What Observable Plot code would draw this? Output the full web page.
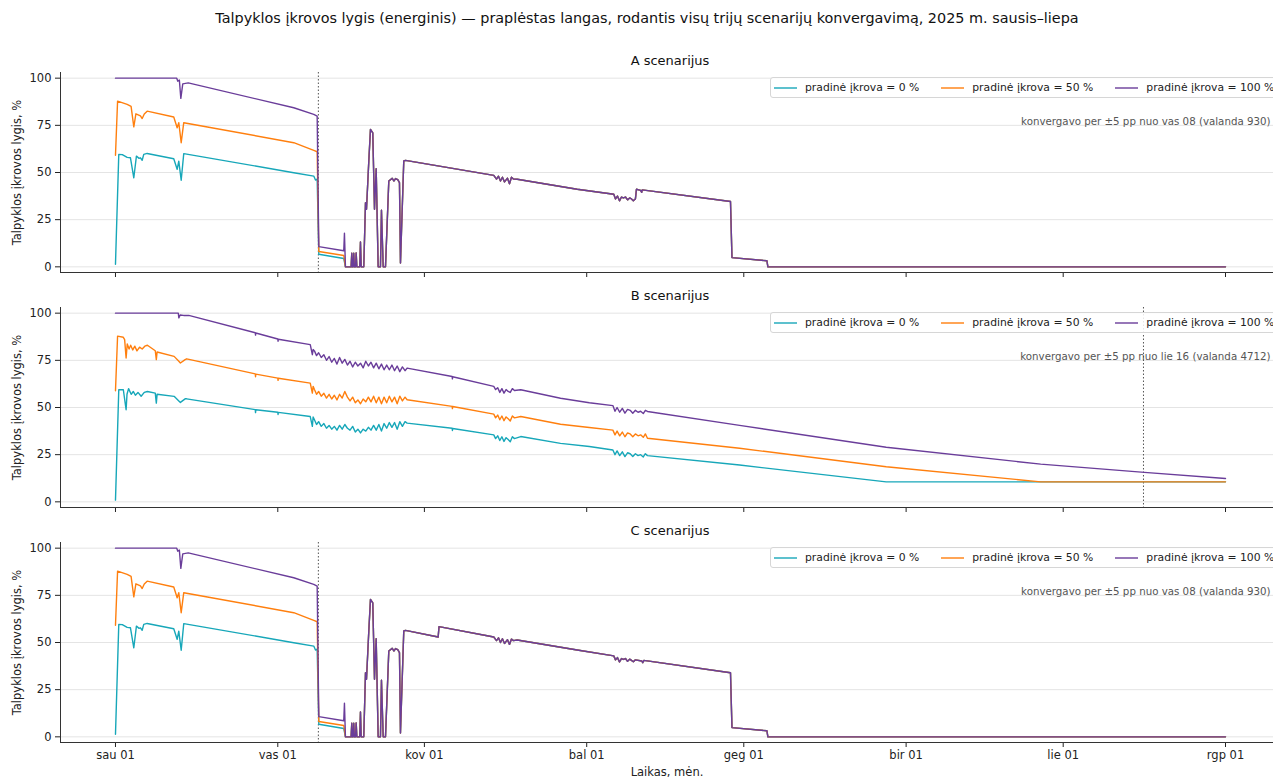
<!DOCTYPE html>
<html lang="lt">
<head>
<meta charset="utf-8">
<script src="https://cdn.jsdelivr.net/npm/d3@7"></script>
<script src="https://cdn.jsdelivr.net/npm/@observablehq/plot@0.6"></script>
<style>
  body { margin: 0; background: #fff; font-family: "DejaVu Sans", sans-serif; }
  #root { position: relative; width: 1273px; height: 778px; overflow: hidden; }
  .ttl { position: absolute; top: 10px; left: 0; width: 1294px; text-align: center; font-size: 14.4px; color: #111; white-space: nowrap; }
  .panel { position: absolute; left: 0; }
  .legend { position: absolute; left: 770px; height: 19px; display: flex; align-items: center;
            border: 1px solid #d6d6d6; border-radius: 3px; background: rgba(255,255,255,0.85);
            font-size: 10.8px; color: #222; padding-left: 3px; white-space: nowrap; }
  .legend .item { display: flex; align-items: center; margin-right: 22px; }
  .legend svg { margin-right: 8px; }
</style>
</head>
<body>
<div id="root">
  <div class="ttl">Talpyklos įkrovos lygis (energinis) — praplėstas langas, rodantis visų trijų scenarijų konvergavimą, 2025 m. sausis–liepa</div>
</div>
<script>
// Series are [day offset from 2025-01-01 00:00 UTC, charge level %]

// A and C share the same start (before convergence)
const headAC0 = [[0,1.4],[0.63,59.6],[1.3,59.5],[2.23,58],[2.86,57.8],[3.5,47.2],[4.0,58.7],[4.5,57.5],[4.77,57.8],[5.1,56.5],[5.4,59.6],[6.05,60.1],[11.13,57.3],[11.78,51.7],[12.09,56],[12.55,45.9],[13.04,60],[34.05,49.9],[37.87,48.1],[38.2,46],[38.52,46.5],[38.83,6.7],[43.6,4.4]];
const headAC50 = [[0,59.1],[0.4,87.8],[2.23,86.1],[2.98,85],[3.5,74.2],[3.9,81.1],[4.77,80],[5.1,78.6],[5.5,81],[6.05,82.5],[11.13,79.4],[11.78,73.7],[12.09,76.4],[12.55,65.8],[13.04,76.4],[34.05,65.8],[37.87,61.7],[38.52,61],[38.83,8.1],[43.6,6]];
const headAC100 = [[0,100],[11.7,100],[11.9,98.4],[12.2,99],[12.48,89.3],[12.85,97],[13.9,97.5],[34.05,84.3],[37.87,80.8],[38.52,79.9],[38.83,10.7],[43.6,8.5],[43.73,17.8]];

// after convergence all three runs coincide
const sharedAC = [[43.92,0],[45.0,0],[45.13,7.2],[45.26,0],[45.4,0],[45.51,7.2],[45.62,0],[45.85,0],[45.97,7.4],[46.1,0],[46.65,0],[46.79,13.2],[46.93,0],[47.42,0],[47.75,34],[47.94,30.5],[48.38,56],[48.7,72.8],[49.14,71],[49.47,30.5],[49.79,52],[50.17,0],[50.61,0],[50.8,30],[51.13,0],[51.57,0],[52.2,45.5],[52.85,46.9],[53.2,45.5],[53.48,46.8],[53.91,46.2],[54.24,44.6],[54.43,2],[55.06,56.1],[55.39,56.4]];
const restA = [[72.25,48.5],[72.77,46.5],[73.15,48],[73.53,45.5],[73.9,47.5],[74.3,45],[74.87,47],[75.25,44],[75.63,47.5],[76.0,46.5],[76.72,46.4],[88.18,41.1],[95.17,38.5],[95.5,36],[95.87,37.5],[96.26,35],[96.64,37],[97.0,36.5],[97.4,37],[97.8,35.5],[98.2,36.5],[98.55,36],[98.9,35],[99.3,36],[99.5,41.1],[100.3,40.5],[100.5,39.5],[100.6,40.8],[117.46,34.6],[117.74,4.9],[124.42,3.2],[124.6,0],[212,0]];
const restC = [[61.63,52.9],[61.79,58.4],[72.25,52.9],[72.77,51],[73.15,52.5],[73.53,50],[73.9,52],[74.3,49.5],[74.87,51.5],[75.25,49],[75.63,51.8],[76.0,51],[76.72,51.3],[88.18,46],[95.17,42.9],[95.5,40.8],[95.87,42],[96.26,39.7],[96.64,41.5],[97.0,41],[97.4,41.5],[97.8,40],[98.2,41.2],[98.55,40.5],[98.9,39.8],[99.3,40.8],[100.5,40.2],[100.7,39.3],[100.9,40.5],[117.46,34],[117.74,4.9],[124.42,3.2],[124.6,0],[212,0]];

// B scenario
const b0 = [[0,0.9],[0.63,59.4],[1.5,59.4],[2.03,48.8],[2.2,57],[2.5,60],[3.0,57],[3.4,58.5],[3.8,56.5],[4.3,58],[4.9,56],[5.5,58],[6.1,58.5],[7.6,57.6],[7.8,52.3],[7.95,57],[11.2,55.9],[12.1,53.5],[12.4,52.7],[13.3,54.6],[13.6,54.6],[26.7,48.9],[26.75,47.3],[26.8,48.8],[31.0,47.5],[31.05,46.3],[31.1,47.4],[37.2,45.2],[37.6,40],[37.75,45],
  [38.0,43.5],[38.4,41],[38.8,42.5],[39.3,40],[39.8,41.5],[40.3,39],[40.8,40.5],[41.3,38.5],[41.8,40],[42.3,38],[42.8,40.5],[43.3,38.5],[43.8,41],[44.3,39],[44.8,38],[45.3,40],[45.8,37],[46.3,38.5],[46.8,36.5],[47.3,38.5],[47.8,37.5],[48.3,39.5],[48.8,38],[49.3,40.5],[49.8,38],[50.3,41],[50.8,37.5],[51.3,41.5],[51.8,39],[52.3,42],[52.8,39.5],[53.3,42],[53.8,38.5],[54.3,42.5],[54.8,40],[55.3,42.5],[55.7,41.7],
  [64.3,39],[64.35,37.8],[64.4,38.9],[72.25,35.5],[72.6,33.5],[73.0,35],[73.4,32.5],[73.8,34.5],[74.2,32],[74.6,34],[75.0,33],[75.4,31.9],[75.8,34.5],[76.2,33.5],[77.4,34.6],[85.0,31],[90.5,29.3],[95.0,27.5],
  [95.4,25],[95.8,27],[96.3,24.5],[96.8,26.5],[97.3,24],[97.8,26],[98.3,25.5],[98.8,24],[99.3,25.5],[99.8,24.5],[100.3,25],[100.8,23.8],[101.2,25.5],[101.6,24.5],[119.2,19.5],[147.2,10.6],[212,10.6]];
const b50 = [[0,58.9],[0.4,87.8],[1.5,87.2],[1.75,86],[2.03,76.2],[2.25,83.7],[2.6,81],[2.9,83],[3.3,80.5],[3.7,82.5],[4.1,80],[4.6,82],[5.1,81],[5.6,82.5],[6.1,83],[7.6,80.1],[7.8,75.4],[7.95,79.4],[11.2,77.1],[12.1,74.5],[12.4,73.6],[13.3,75.4],[13.6,75.8],[26.7,67.8],[26.75,66.3],[26.8,67.7],[31.0,65.6],[31.05,64.4],[31.1,65.5],[37.2,62.9],[37.6,57.6],[37.75,61.2],
  [38.0,59.5],[38.4,57],[38.8,58.5],[39.3,56],[39.8,57.5],[40.3,55],[40.8,57],[41.3,54.5],[41.8,56.5],[42.3,54],[42.8,57],[43.3,55],[43.8,58.5],[44.3,55.5],[44.8,53.5],[45.3,55.5],[45.8,52.5],[46.3,54],[46.8,52],[47.3,54.5],[47.8,53],[48.3,55.5],[48.8,53],[49.3,56],[49.8,52.5],[50.3,55.5],[50.8,52],[51.3,55.5],[51.8,52.5],[52.3,56],[52.8,53],[53.3,55.5],[53.8,52],[54.3,56],[54.8,53.5],[55.3,55.5],[55.7,54.1],
  [64.3,50.6],[64.35,49.4],[64.4,50.5],[72.25,46.5],[72.6,44.5],[73.0,46],[73.4,43.5],[73.8,45.5],[74.2,43],[74.6,45],[75.0,44],[75.4,42.9],[75.8,45.5],[76.2,44.5],[77.4,45.2],[85.0,41.1],[90.5,39.4],[95.0,38],
  [95.4,35.5],[95.8,37.5],[96.3,35],[96.8,37],[97.3,34.5],[97.8,36.5],[98.3,36],[98.8,34.5],[99.3,36],[99.8,35],[100.3,35.5],[100.8,34.2],[101.2,36],[101.6,33.7],[119.2,28.4],[147.2,18.6],[176.7,10.6],[212,10.6]];
const b100 = [[0,100],[12.0,100],[12.1,97.5],[12.35,99],[13.0,98.8],[14.0,98.8],[26.7,89.6],[26.75,88.4],[26.8,89.5],[31.0,86.3],[31.05,85.1],[31.1,86.2],[37.2,83.3],[37.6,78],[37.75,80.7],
  [38.0,80],[38.4,77.5],[38.8,79],[39.3,76.5],[39.8,78],[40.3,75],[40.8,77],[41.3,74],[41.8,76],[42.3,73],[42.8,76.5],[43.3,73.5],[43.8,75.5],[44.3,72.5],[44.8,74.5],[45.3,71.5],[45.8,74],[46.3,72],[46.8,73.5],[47.3,71],[47.8,74.5],[48.3,72],[48.8,74],[49.3,71],[49.8,73.5],[50.3,70.5],[50.8,73],[51.3,70],[51.8,72.5],[52.3,70],[52.8,72.5],[53.3,69.5],[53.8,72],[54.3,69],[54.8,71.5],[55.3,69.5],[55.7,70.9],
  [64.3,66.4],[64.35,65.2],[64.4,66.3],[72.25,61.2],[72.6,59.5],[73.0,60.5],[73.4,58],[73.8,60],[74.2,57.6],[74.6,59.5],[75.0,58.5],[75.4,58],[75.8,60],[76.2,59],[77.4,59.4],[85.0,54.9],[90.5,52.5],[95.0,51],
  [95.4,48],[95.8,50],[96.3,47.5],[96.8,49.5],[97.3,47],[97.8,49],[98.3,48.5],[98.8,47],[99.3,48.5],[99.8,47.5],[100.3,48],[100.8,46.8],[101.2,48.5],[101.6,47.9],[119.2,40.5],[147.2,28.9],[176.7,20],[196.5,15.6],[212,12.4]];

const keys = ["0", "50", "100"];
const keyLabels = ["pradinė įkrova = 0 %", "pradinė įkrova = 50 %", "pradinė įkrova = 100 %"];
const colors = ["#17a7b9", "#ff7f0e", "#6a3d9a"];
const monthNames = ["sau", "vas", "kov", "bal", "geg", "bir", "lie", "rgp"];
const yTicks = [0, 25, 50, 75, 100];
const convHours = {A: 930, B: 4712, C: 930};
const notes = {
  A: "konvergavo per ±5 pp nuo vas 08 (valanda 930)",
  B: "konvergavo per ±5 pp nuo lie 16 (valanda 4712)",
  C: "konvergavo per ±5 pp nuo vas 08 (valanda 930)"
};

const t0 = Date.UTC(2025, 0, 1);
const toDate = d => new Date(t0 + d * 864e5);
const xDomain = [new Date(Date.UTC(2024, 11, 21, 12)), new Date(Date.UTC(2025, 7, 10, 4))];
const monthTicks = d3.range(0, 8).map(m => new Date(Date.UTC(2025, m, 1)));

function rows(series) {
  const out = [];
  series.forEach((pts, i) => pts.forEach(([d, v]) => out.push({t: toDate(d), v, k: keys[i]})));
  return out;
}

const panels = [
  {id: "A", top: 50, height: 240, mb: 18, showX: false,
   data: rows([[...headAC0, ...sharedAC, ...restA], [...headAC50, ...sharedAC, ...restA], [...headAC100, ...sharedAC, ...restA]])},
  {id: "B", top: 285, height: 240, mb: 18, showX: false,
   data: rows([b0, b50, b100])},
  {id: "C", top: 520, height: 258, mb: 36, showX: true,
   data: rows([[...headAC0, ...sharedAC, ...restC], [...headAC50, ...sharedAC, ...restC], [...headAC100, ...sharedAC, ...restC]])}
];

const root = document.getElementById("root");

for (const p of panels) {
  const chart = Plot.plot({
    width: 1273, height: p.height,
    marginLeft: 60, marginRight: 0, marginTop: 22, marginBottom: p.mb,
    style: {fontFamily: "DejaVu Sans, sans-serif", fontSize: "11.5px", color: "#222", background: "transparent", overflow: "visible"},
    x: {type: "utc", domain: xDomain},
    y: {domain: [-3, 103]},
    color: {type: "ordinal", domain: keys, range: colors},
    marks: [
      Plot.gridY(yTicks, {stroke: "#e4e4e4", strokeOpacity: 1}),
      Plot.axisY(yTicks, {tickSize: 5, tickPadding: 4, label: "Talpyklos įkrovos lygis, %", labelAnchor: "center", labelArrow: "none", labelOffset: 48, fontSize: 11.5}),
      Plot.axisX(monthTicks, {
        tickSize: 5, tickPadding: 3,
        tickFormat: p.showX ? (d => `${monthNames[d.getUTCMonth()]} 01`) : (() => ""),
        label: p.showX ? "Laikas, mėn." : null, labelAnchor: "center", labelArrow: "none", fontSize: 11.5
      }),
      Plot.ruleX([xDomain[0]], {stroke: "#333", strokeWidth: 1}),
      Plot.ruleY([-3], {stroke: "#333", strokeWidth: 1}),
      Plot.ruleX([toDate(convHours[p.id] / 24)], {stroke: "#555", strokeWidth: 1, strokeDasharray: "1.5,2"}),
      Plot.line(p.data, {x: "t", y: "v", z: "k", stroke: "k", strokeWidth: 1.4, curve: "linear"}),
      Plot.text([notes[p.id]], {text: d => d, frameAnchor: "top-right", lineAnchor: "middle", dx: -3, dy: 49, fontSize: 10.25, fill: "#555", textAnchor: "end"}),
      Plot.text([`${p.id} scenarijus`], {text: d => d, frameAnchor: "top", lineAnchor: "middle", dx: 3, dy: -12, fontSize: 13, fill: "#111"})
    ]
  });
  chart.classList.add("panel");
  chart.style.top = p.top + "px";
  root.appendChild(chart);

  // legend box in the top-right corner of each panel
  const lg = document.createElement("div");
  lg.className = "legend";
  lg.style.top = (p.top + 27) + "px";
  keys.forEach((k, i) => {
    const it = document.createElement("div");
    it.className = "item";
    it.innerHTML = `<svg width="23" height="10"><line x1="0" x2="23" y1="5" y2="5" stroke="${colors[i]}" stroke-width="1.4"/></svg><span>${keyLabels[i]}</span>`;
    lg.appendChild(it);
  });
  root.appendChild(lg);
}
</script>
</body>
</html>
